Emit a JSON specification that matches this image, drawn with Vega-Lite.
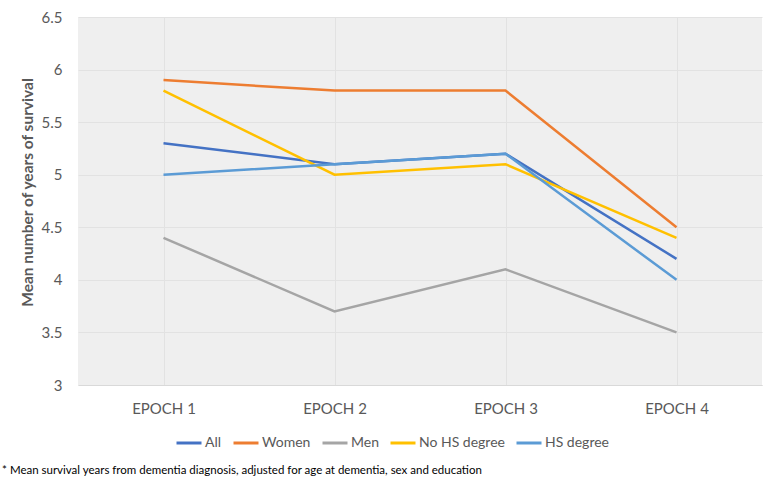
{
  "$schema": "https://vega.github.io/schema/vega-lite/v6.json",
  "width": 684,
  "height": 368,
  "autosize": {"type": "none"},
  "padding": {"left": 78, "top": 17, "right": 14, "bottom": 101},
  "background": "white",
  "config": {
    "font": "Lato",
    "view": {"fill": "#efefef", "stroke": null}
  },
  "title": {
    "text": "* Mean survival years from dementia diagnosis, adjusted for age at dementia, sex and education",
    "orient": "bottom",
    "anchor": "start",
    "frame": "bounds",
    "fontSize": 11.5,
    "fontWeight": "normal",
    "color": "#000000",
    "offset": 30,
    "dx": -18,
    "dy": -15
  },
  "data": {
    "values": [
      {"epoch": "EPOCH 1", "group": "All", "value": 5.3},
      {"epoch": "EPOCH 2", "group": "All", "value": 5.1},
      {"epoch": "EPOCH 3", "group": "All", "value": 5.2},
      {"epoch": "EPOCH 4", "group": "All", "value": 4.2},
      {"epoch": "EPOCH 1", "group": "Women", "value": 5.9},
      {"epoch": "EPOCH 2", "group": "Women", "value": 5.8},
      {"epoch": "EPOCH 3", "group": "Women", "value": 5.8},
      {"epoch": "EPOCH 4", "group": "Women", "value": 4.5},
      {"epoch": "EPOCH 1", "group": "Men", "value": 4.4},
      {"epoch": "EPOCH 2", "group": "Men", "value": 3.7},
      {"epoch": "EPOCH 3", "group": "Men", "value": 4.1},
      {"epoch": "EPOCH 4", "group": "Men", "value": 3.5},
      {"epoch": "EPOCH 1", "group": "No HS degree", "value": 5.8},
      {"epoch": "EPOCH 2", "group": "No HS degree", "value": 5.0},
      {"epoch": "EPOCH 3", "group": "No HS degree", "value": 5.1},
      {"epoch": "EPOCH 4", "group": "No HS degree", "value": 4.4},
      {"epoch": "EPOCH 1", "group": "HS degree", "value": 5.0},
      {"epoch": "EPOCH 2", "group": "HS degree", "value": 5.1},
      {"epoch": "EPOCH 3", "group": "HS degree", "value": 5.2},
      {"epoch": "EPOCH 4", "group": "HS degree", "value": 4.0}
    ]
  },
  "mark": {"type": "line", "strokeWidth": 2.5},
  "encoding": {
    "x": {
      "field": "epoch",
      "type": "ordinal",
      "sort": ["EPOCH 1", "EPOCH 2", "EPOCH 3", "EPOCH 4"],
      "scale": {"type": "point", "padding": 0.5},
      "axis": {
        "title": null,
        "labelAngle": 0,
        "labelFontSize": 15,
        "labelColor": "#595959",
        "ticks": false,
        "domainColor": "#d9d9d9",
        "grid": true,
        "gridColor": "#e2e2e2",
        "labelPadding": 16
      }
    },
    "y": {
      "field": "value",
      "type": "quantitative",
      "scale": {"domain": [3, 6.5], "nice": false, "zero": false},
      "axis": {
        "values": [3, 3.5, 4, 4.5, 5, 5.5, 6, 6.5],
        "format": "~g",
        "title": "Mean number of years of survival",
        "titleFontSize": 15.5,
        "titleFontWeight": "bold",
        "titleColor": "#595959",
        "titleY": 175,
        "titlePadding": 6,
        "labelFontSize": 15,
        "labelColor": "#595959",
        "labelPadding": 16,
        "ticks": false,
        "domain": false,
        "gridColor": "#e2e2e2"
      }
    },
    "color": {
      "field": "group",
      "type": "nominal",
      "scale": {
        "domain": ["All", "Women", "Men", "No HS degree", "HS degree"],
        "range": ["#4472C4", "#ED7D31", "#A5A5A5", "#FFC000", "#5B9BD5"]
      },
      "legend": {
        "title": null,
        "orient": "none",
        "direction": "horizontal",
        "legendX": 97,
        "legendY": 412,
        "symbolType": "stroke",
        "symbolSize": 625,
        "symbolStrokeWidth": 3,
        "labelFontSize": 14,
        "labelColor": "#595959",
        "labelOffset": 2,
        "columnPadding": 5
      }
    }
  }
}
